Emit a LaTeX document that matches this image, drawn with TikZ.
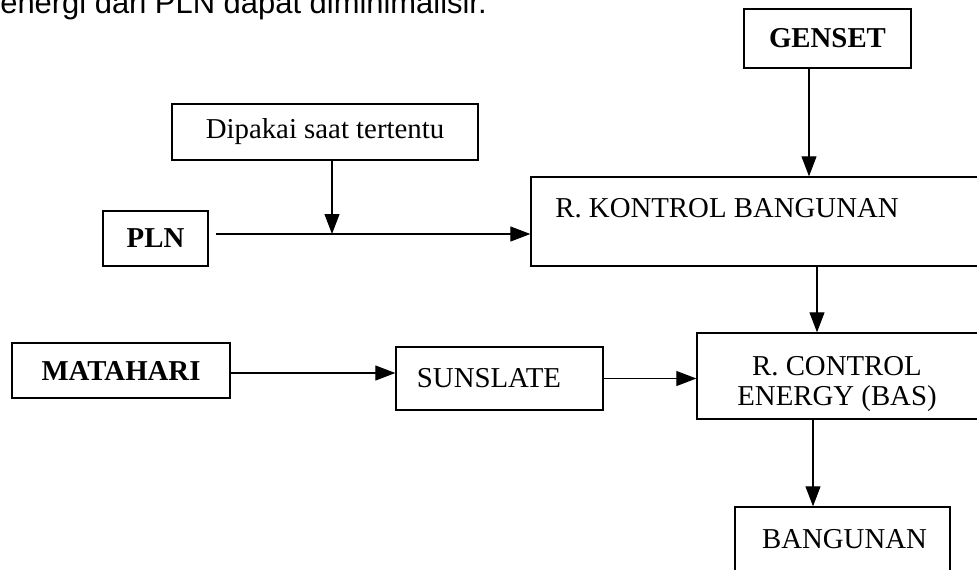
\documentclass[tikz,border=0pt]{standalone}
\usepackage{fontspec}
\setmainfont{Liberation Serif}
\newfontfamily\kalimatfont{Liberation Sans}
\usetikzlibrary{arrows.meta, calc, positioning}

\tikzset{
  blok/.style={draw, line width=0.8pt, rectangle, inner sep=0pt,
    font=\fontsize{16.4}{17}\selectfont},
  tebal/.style={blok, font=\fontsize{16.4}{17}\selectfont\bfseries},
  teks/.style={inner sep=0pt, font=\fontsize{16.4}{17}\selectfont},
  arr/.style={line width=0.6pt, -{Triangle[length=0.4cm, width=0.3cm]}}
}

\begin{document}
\begin{tikzpicture}[x=0.02cm, y=-0.02cm]
\useasboundingbox (0,0) rectangle (977,569);
\clip (0,0) rectangle (977,569);

% kalimat terpotong di atas
\node[anchor=base west, inner sep=0pt, font=\kalimatfont\fontsize{17.6}{20}\selectfont] (kalimat) at (0,13) {energi dari PLN dapat diminimalisir.};

% kotak-kotak
\node[tebal, minimum width=3.34cm, minimum height=1.18cm] (genset) at (827.5,38.5) {GENSET};
\node[blok, minimum width=6.12cm, minimum height=1.12cm] (dipakai) at (325,132) {Dipakai saat tertentu};
\node[tebal, minimum width=2.1cm, minimum height=1.1cm] (pln) at (155.5,238.5) {PLN};
\node[blok, minimum width=9.98cm, minimum height=1.78cm] (kontrol) at (780.5,221.5) {};
\node[teks, anchor=base west] (kontroltxt) at (555,217) {R. KONTROL BANGUNAN};
\node[tebal, minimum width=4.36cm, minimum height=1.1cm] (matahari) at (121,370.5) {MATAHARI};
\node[blok, minimum width=4.14cm, minimum height=1.26cm] (sunslate) at (499.5,378.5) {};
\node[teks] (sunslatetxt) at (489,378) {SUNSLATE};
\node[blok, minimum width=6.66cm, minimum height=1.72cm] (energy) at (863.5,376) {};
\node[teks, align=center] (energytxt) at (837,384) {R. CONTROL\\ENERGY (BAS)};
\node[blok, minimum width=4.3cm, minimum height=1.3cm] (bangunan) at (842.5,539.5) {};
\node[teks] (bangunantxt) at (844.5,539) {BANGUNAN};

% panah
\coordinate (j) at (332,234);
\draw[arr] ($(genset.south)+(-18.5,0)$) coordinate (g) -- (g |- kontrol.north);
\draw[arr] (dipakai.south -| j) -- (j);
\draw[arr] ($(pln.east |- j)+(7,0)$) -- (kontrol.west |- j);
\draw[arr] ($(kontrol.south)+(36.5,0)$) coordinate (k) -- (k |- energy.north);
\coordinate (b) at ($(bangunan.north)+(-29.5,0)$);
\draw[arr] (energy.south -| b) -- (b);
\draw[arr] ($(matahari.east)+(0,2.5)$) coordinate (m) -- (m -| sunslate.west);
\draw[arr] (sunslate.east) -- (sunslate.east -| energy.west);
\end{tikzpicture}
\end{document}
